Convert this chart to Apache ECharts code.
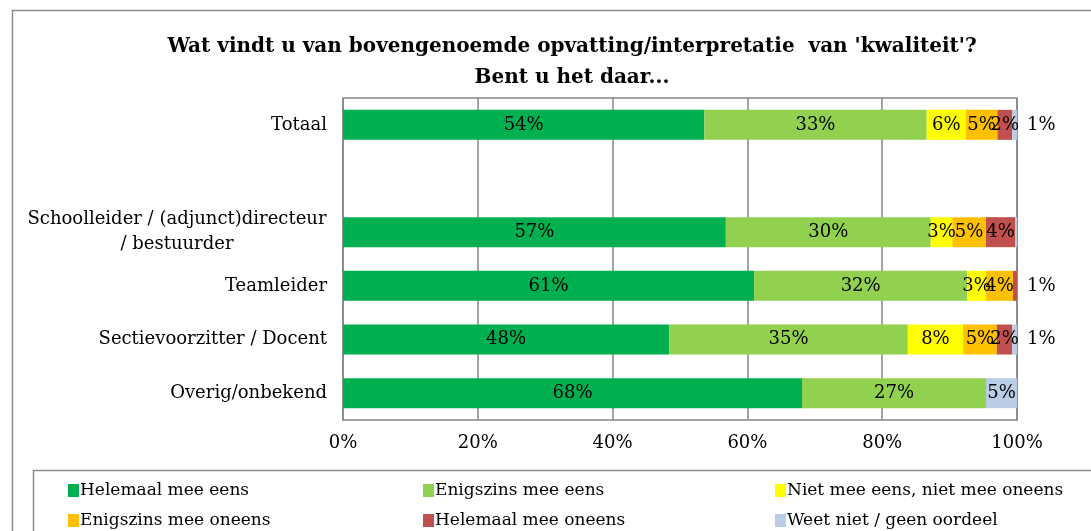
<!DOCTYPE html>
<html>
<head>
<meta charset="utf-8">
<title>Kwaliteit</title>
<script src="https://cdn.jsdelivr.net/npm/echarts@6/dist/echarts.min.js"></script>
<style>
  html, body { margin: 0; padding: 0; background: #fff; }
  #chart { width: 1091px; height: 531px; }
</style>
</head>
<body>
<div id="chart"></div>
<script>
// categorieën (lege rij = witregel tussen Totaal en de groepen)
const categories = [
  "Totaal",
  "",
  "Schoolleider / (adjunct)directeur\n/ bestuurder",
  "Teamleider",
  "Sectievoorzitter / Docent",
  "Overig/onbekend",
];

const seriesNames = [
  "Helemaal mee eens",
  "Enigszins mee eens",
  "Niet mee eens, niet mee oneens",
  "Enigszins mee oneens",
  "Helemaal mee oneens",
  "Weet niet / geen oordeel",
];

// percentages per antwoord, zelfde volgorde als categories
const helemaalEens = [53.6, null, 56.8, 61.0, 48.4, 68.1];
const enigszinsEens = [33.0, null, 30.4, 31.6, 35.4, 27.3];
const neutraal = [5.8, null, 3.2, 2.8, 8.2, 0];
const enigszinsOneens = [4.7, null, 5.0, 4.0, 5.0, 0];
const helemaalOneens = [2.2, null, 4.3, 0.6, 2.3, 0];
const weetNiet = [0.7, null, 0.3, 0, 0.7, 4.6];

const xTicks = [0, 20, 40, 60, 80, 100];

// labels die buiten de balk staan: [rij, serie]
const outsideLabels = [[0, 5], [3, 4], [4, 5]];

const colors = ["#00B050", "#92D050", "#FFFF00", "#FFC000", "#C0504D", "#B9CDE5"];
const allValues = [helemaalEens, enigszinsEens, neutraal, enigszinsOneens, helemaalOneens, weetNiet];

const FONT = "DejaVu Serif";
const FS = 18;

const chart = echarts.init(document.getElementById("chart"));

const series = seriesNames.map((name, s) => ({
  name,
  type: "bar",
  stack: "totaal",
  barWidth: 30,
  itemStyle: { color: colors[s] },
  label: {
    show: true,
    position: "inside",
    color: "#000",
    fontFamily: FONT,
    fontSize: FS,
    formatter: (p) => (p.value >= 0.5 ? Math.round(p.value) + "%" : ""),
  },
  data: allValues[s].map((v, i) => {
    const out = outsideLabels.some(([r, c]) => r === i && c === s);
    return out ? { value: v, label: { position: "right", distance: 10 } } : v;
  }),
}));

// legenda: 3 kolommen, 2 rijen
const legendPos = [
  [63, 477], [418, 477], [770, 477],
  [63, 507], [418, 507], [770, 507],
];
const legends = seriesNames.map((name, i) => ({
  data: [name],
  left: legendPos[i][0],
  top: legendPos[i][1],
  itemWidth: 11,
  itemHeight: 13,
  itemGap: 4,
  icon: "rect",
  selectedMode: false,
  textStyle: { fontFamily: FONT, fontSize: 17, color: "#000", padding: [0, 0, 0, -4] },
}));

chart.setOption({
  animation: false,
  title: {
    text: "Wat vindt u van bovengenoemde opvatting/interpretatie  van 'kwaliteit'?\nBent u het daar...",
    left: 567,
    top: 26,
    textAlign: "center",
    textStyle: {
      fontFamily: FONT,
      fontSize: 20,
      fontWeight: "bold",
      color: "#000",
      lineHeight: 31,
    },
  },
  graphic: [
    {
      type: "rect",
      shape: { x: 12.5, y: 10.5, width: 1100, height: 560 },
      style: { fill: "none", stroke: "#8c8c8c", lineWidth: 1.5 },
      silent: true,
    },
    {
      type: "rect",
      shape: { x: 33.5, y: 470.5, width: 1100, height: 100 },
      style: { fill: "none", stroke: "#8c8c8c", lineWidth: 1.5 },
      silent: true,
    },
  ],
  legend: legends,
  grid: {
    left: 343,
    right: 74,
    top: 98,
    bottom: 111,
    show: true,
    borderColor: "#868686",
    borderWidth: 1.5,
  },
  xAxis: {
    type: "value",
    min: 0,
    max: 100,
    interval: 20,
    axisLine: { show: false },
    axisTick: { show: false },
    splitLine: { lineStyle: { color: "#868686", width: 1.5 } },
    axisLabel: {
      margin: 14,
      fontFamily: FONT,
      fontSize: FS,
      color: "#000",
      formatter: (v) => (xTicks.includes(v) ? v + "%" : ""),
    },
  },
  yAxis: {
    type: "category",
    inverse: true,
    data: categories,
    axisLine: { show: false },
    axisTick: { show: false },
    axisLabel: {
      margin: 16,
      fontFamily: FONT,
      fontSize: FS,
      color: "#000",
      lineHeight: 25,
      formatter: (v) =>
        v.includes("\n")
          ? v.split("\n").map((l) => "{c|" + l + "}").join("\n")
          : v,
      rich: {
        c: { width: 300, align: "center", fontFamily: FONT, fontSize: FS, lineHeight: 25 },
      },
    },
  },
  series,
});
</script>
</body>
</html>
